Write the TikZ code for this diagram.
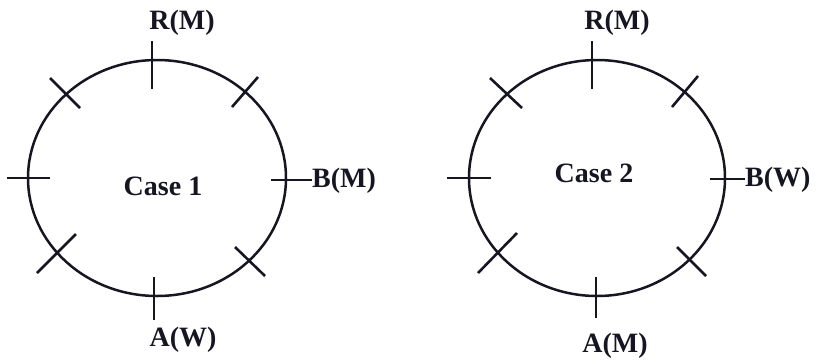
\documentclass[tikz,border=0pt]{standalone}
\usepackage{fontspec}
\setmainfont{Liberation Serif}
\definecolor{ink}{RGB}{22,22,34}
\begin{document}
\begin{tikzpicture}[x=1pt,y=-1pt,
  seat/.style={draw=ink,line width=2.6pt},
  ring/.style={draw=ink,line width=2.5pt},
  lbl/.style={text=ink,font=\bfseries\fontsize{28}{30}\selectfont,inner sep=0pt}]
\useasboundingbox (0,0) rectangle (820,360);
% ---------- Case 1 ----------
\draw[ring] (157,178) ellipse [x radius=129, y radius=118];
\node[lbl] (c1) at (163,186) {Case 1};
\draw[seat] (152,41) -- (152,89);
\draw[seat] (154,277) -- (154,320);
\draw[seat] (7,178) -- (50,178);
\draw[seat] (271,180) -- (312,180);
\draw[seat] (50,78) -- (80,108);
\draw[seat] (258,77) -- (232,107);
\draw[seat] (76,234) -- (37,273);
\draw[seat] (235,247) -- (265,276);
\node[lbl] (r1) at (182,23) {R(M)};
\node[lbl,anchor=west] (b1) at (312,181) {B(M)};
\node[lbl] (a1) at (183,340) {A(W)};
% ---------- Case 2 ----------
\draw[ring] (597,178) ellipse [x radius=128, y radius=118];
\node[lbl] (c2) at (594,173) {Case 2};
\draw[seat] (592,41) -- (592,89);
\draw[seat] (596,277) -- (596,318);
\draw[seat] (447,178) -- (491,178);
\draw[seat] (710,179) -- (745,179);
\draw[seat] (490,78) -- (522,108);
\draw[seat] (698,76) -- (672,107);
\draw[seat] (517,233) -- (478,273);
\draw[seat] (677,247) -- (706,276);
\node[lbl] (r2) at (617,23) {R(M)};
\node[lbl,anchor=west] (b2) at (745,180) {B(W)};
\node[lbl] (a2) at (615,346) {A(M)};
\end{tikzpicture}
\end{document}
